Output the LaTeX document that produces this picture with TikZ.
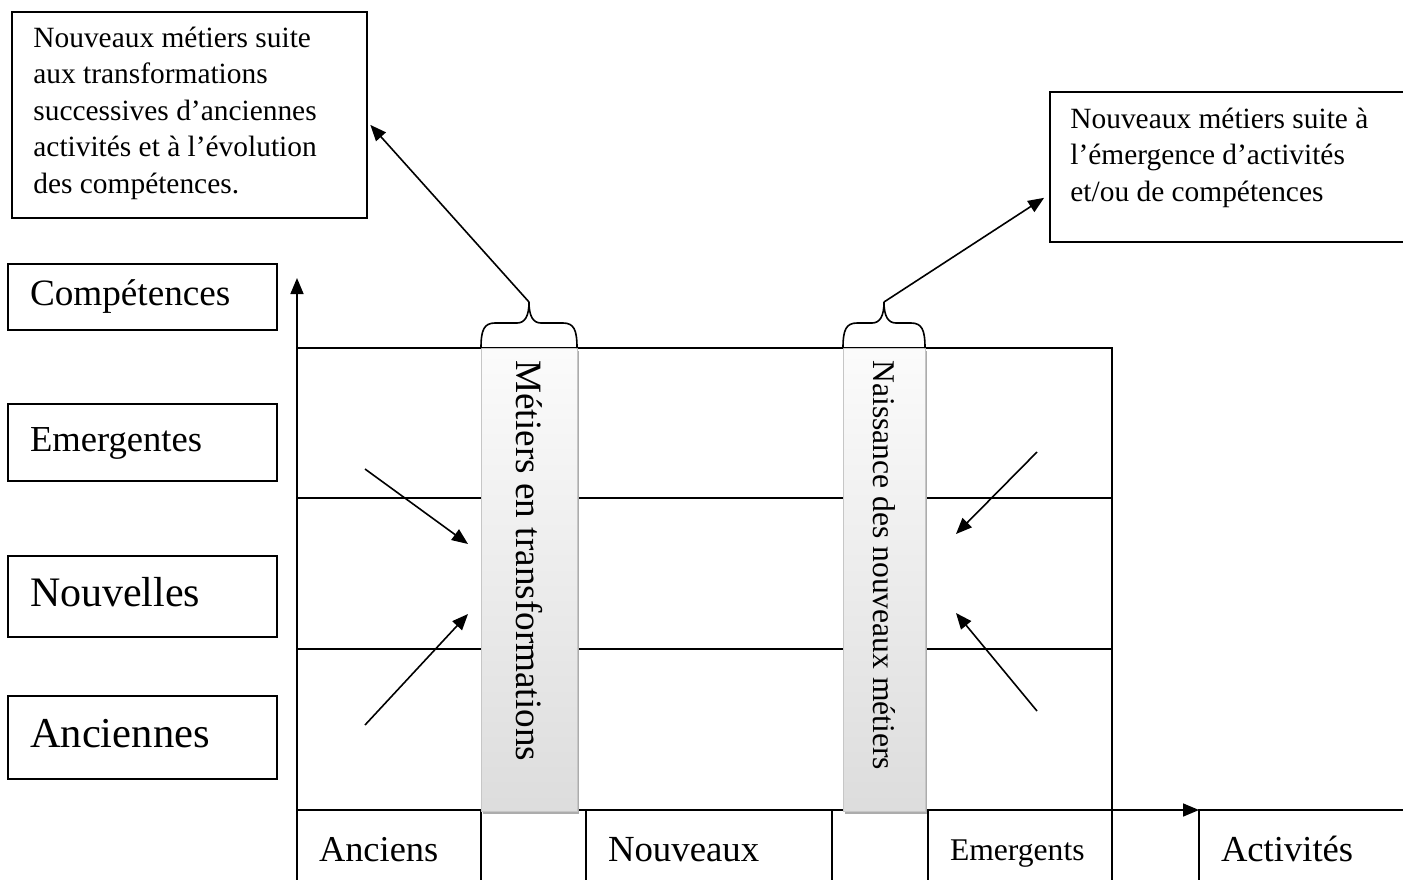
\documentclass[tikz,border=0pt]{standalone}
\usepackage{fontspec}
\setmainfont{Liberation Serif}
\usetikzlibrary{arrows.meta,calc,shadows}

\newcommand\notefont{\fontsize{14.7}{18.25}\selectfont}

\tikzset{
  ink/.style={draw=black,line width=0.8pt},
  arr/.style={line width=0.8pt,-{Triangle[length=8pt,width=6.5pt]}},
  boxframe/.style={draw=black,line width=0.8pt,inner sep=0pt,outer sep=0pt,anchor=north west},
  tag/.style={boxframe,align=left,inner xsep=11pt,inner ysep=0pt},
  stripe/.style={draw=gray!45,line width=0.5pt,top color=gray!3,bottom color=gray!27,
    drop shadow={shadow xshift=1pt,shadow yshift=-1.5pt,fill=gray!65,opacity=1},
    inner sep=0pt,outer sep=0pt},
  stripetext/.style={rotate=-90,anchor=west,inner sep=0pt},
  pics/curlybrace/.style={code={
    \draw[ink] (-#1,0) .. controls (-#1,-18) and (-#1+3,-25) .. (-#1+14,-25)
      -- (-12,-25) .. controls (-4,-25) and (0,-32) .. (0,-46)
      .. controls (0,-32) and (4,-25) .. (12,-25)
      -- (#1-14,-25) .. controls (#1-3,-25) and (#1,-18) .. (#1,0);
    \coordinate (-tip) at (0,-46);
  }}
}

\begin{document}
\begin{tikzpicture}[x=0.5pt,y=-0.5pt]
\useasboundingbox (0,0) rectangle (1403,879);
\clip (0,0) rectangle (1403,879);

% competence levels (vertical scale)
\node[tag,text width=112.5pt,minimum height=33pt,font=\fontsize{18.6}{22}\selectfont] (lcomp) at (8,264) {\strut Compétences};
\node[tag,text width=112.5pt,minimum height=38.5pt,font=\fontsize{18.3}{22}\selectfont] (lemer) at (8,404) {\strut Emergentes};
\node[tag,text width=112.5pt,minimum height=40.5pt,font=\fontsize{21}{25}\selectfont] (lnouv) at (8,556) {\strut Nouvelles};
\node[tag,text width=112.5pt,minimum height=41.5pt,font=\fontsize{21.3}{25}\selectfont] (lanc) at (8,696) {\strut Anciennes};

% activity categories (horizontal scale)
\node[tag,text width=70pt,minimum height=43pt,font=\fontsize{18.2}{22}\selectfont] (xanc) at (297,810) {\strut Anciens};
\node[tag,text width=101pt,minimum height=43pt,font=\fontsize{18.4}{22}\selectfont] (xnouv) at (586,810) {\strut Nouveaux};
\node[tag,text width=70pt,minimum height=43pt,font=\fontsize{15.8}{19}\selectfont] (xemer) at (928,810) {\strut Emergents};
\node[tag,text width=128pt,minimum height=43pt,font=\fontsize{18.3}{22}\selectfont] (xact) at (1199,810) {\strut Activités};

% grid
\coordinate (O) at (297,810);
\coordinate (ybottom) at (297,890);
\coordinate (ytop) at (297,278);
\draw[ink] (297,348) -- (1112,348) -- (1112,810);
\draw[ink] (297,498) -- (1112,498);
\draw[ink] (297,649) -- (1112,649);

% axes
\draw[arr] (ybottom) -- (ytop);
\draw[arr] (O) -- (xact.north west);

% shaded columns
\node[stripe,minimum width=48pt,minimum height=231.5pt] (b1) at (529,579.5) {};
\node[stripe,minimum width=41pt,minimum height=231.5pt] (b2) at (884,579.5) {};
\node[stripetext,font=\fontsize{18.6}{22}\selectfont] (b1text) at ($(b1.north)+(0,12)$) {Métiers en transformations};
\node[stripetext,font=\fontsize{15.8}{19}\selectfont] (b2text) at ($(b2.north)+(0,12)$) {Naissance des nouveaux métiers};

% braces above the columns
\pic (br1) at (b1.north) {curlybrace=48};
\pic (br2) at (b2.north) {curlybrace=41};

% explanatory notes
\node[boxframe,minimum width=177.5pt,minimum height=103pt] (note1) at (12,12) {};
\node[anchor=base west,inner sep=0pt,font=\notefont] (note1text) at (33,47)
  {\parbox[t]{170pt}{\raggedright Nouveaux métiers suite\\aux transformations\\successives d’anciennes\\activités et à l’évolution\\des compétences.}};
\node[boxframe,minimum width=210pt,minimum height=75pt] (note2) at (1050,92) {};
\node[anchor=base west,inner sep=0pt,font=\notefont] (note2text) at (1070,128)
  {\parbox[t]{170pt}{\raggedright Nouveaux métiers suite à\\l’émergence d’activités\\et/ou de compétences}};

\draw[arr,shorten >=2.5pt] (br1-tip) -- ($(note1.north east)!0.53!(note1.south east)$);
\draw[arr,shorten >=3.5pt] (br2-tip) -- ($(note2.north west)!0.68!(note2.south west)$);

% arrows pointing at the columns
\coordinate (a1s) at (365,469); \coordinate (a1e) at (468,544);
\coordinate (a2s) at (365,725); \coordinate (a2e) at (468,614);
\coordinate (a3s) at (1037,452); \coordinate (a3e) at (956,534);
\coordinate (a4s) at (1037,711); \coordinate (a4e) at (956,613);
\draw[arr] (a1s) -- (a1e);
\draw[arr] (a2s) -- (a2e);
\draw[arr] (a3s) -- (a3e);
\draw[arr] (a4s) -- (a4e);
\end{tikzpicture}
\end{document}
